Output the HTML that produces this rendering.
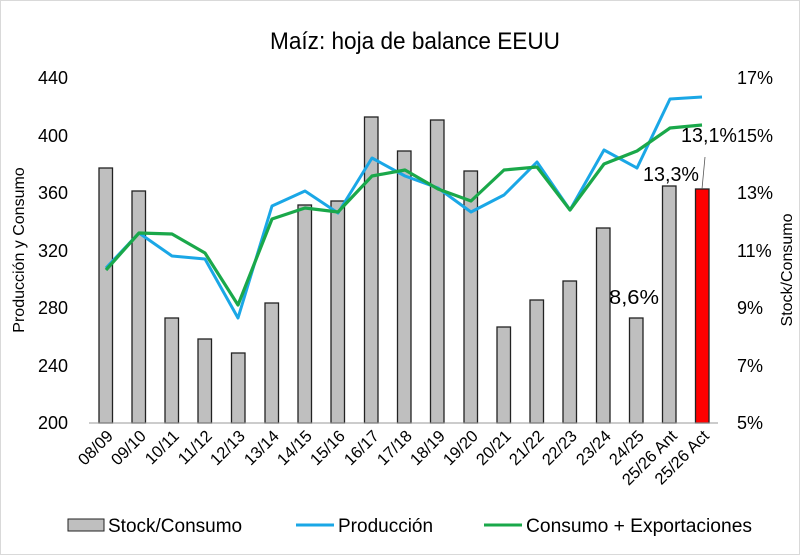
<!DOCTYPE html>
<html><head><meta charset="utf-8"><style>
html,body{margin:0;padding:0;background:#fff}
svg{display:block;font-family:"Liberation Sans",sans-serif}
</style></head><body>
<svg width="800" height="555" viewBox="0 0 800 555">
<rect x="0.5" y="0.5" width="799" height="554" fill="#fff" stroke="#d9d9d9"/>
<text x="415" y="49" font-size="24" text-anchor="middle" textLength="290" lengthAdjust="spacingAndGlyphs">Maíz: hoja de balance EEUU</text>
<g font-size="18" text-anchor="end" fill="#000">
<text x="68" y="84">440</text><text x="68" y="142">400</text><text x="68" y="199">360</text>
<text x="68" y="257">320</text><text x="68" y="314">280</text><text x="68" y="372">240</text><text x="68" y="429">200</text>
</g>
<g font-size="18" fill="#000">
<text x="737" y="84">17%</text><text x="737" y="142">15%</text><text x="737" y="199">13%</text>
<text x="737" y="257">11%</text><text x="737" y="314">9%</text><text x="737" y="372">7%</text><text x="737" y="429">5%</text>
</g>
<text transform="translate(24,250) rotate(-90)" font-size="16" text-anchor="middle">Producción y Consumo</text>
<text transform="translate(792,270) rotate(-90)" font-size="16" text-anchor="middle">Stock/Consumo</text>
<g fill="#bfbfbf" stroke="#222" stroke-width="1.3">
<rect x="99" y="168" width="13.5" height="255"/>
<rect x="132" y="191" width="13.5" height="232"/>
<rect x="165" y="318" width="13.5" height="105"/>
<rect x="198" y="339" width="13.5" height="84"/>
<rect x="231.5" y="353" width="13.5" height="70"/>
<rect x="265" y="303" width="13.5" height="120"/>
<rect x="298" y="205" width="13.5" height="218"/>
<rect x="331" y="201" width="13.5" height="222"/>
<rect x="364.5" y="117" width="13.5" height="306"/>
<rect x="397.5" y="151" width="13.5" height="272"/>
<rect x="430.5" y="120" width="13.5" height="303"/>
<rect x="464" y="171" width="13.5" height="252"/>
<rect x="497" y="327" width="13.5" height="96"/>
<rect x="530" y="300" width="13.5" height="123"/>
<rect x="563" y="281" width="13.5" height="142"/>
<rect x="596.5" y="228" width="13.5" height="195"/>
<rect x="629.5" y="318" width="13.5" height="105"/>
<rect x="662.5" y="186" width="13.5" height="237"/>
<rect x="695.5" y="189" width="13.5" height="234" fill="#ff0000"/>
</g>
<line x1="89" y1="423" x2="718" y2="423" stroke="#999" stroke-width="1"/>
<polyline fill="none" stroke="#1aa7e6" stroke-width="3" stroke-linejoin="round" points="106,268 139,233 172,256 205,259 238,318 272,206 305,191 338,213 372,158 405,176 438,188 471,212 504,195 537,162 570,210 604,150 637,168 670,99 702,97"/>
<polyline fill="none" stroke="#1aa84a" stroke-width="3.2" stroke-linejoin="round" points="106,270 139,233 172,234 205,253 238,305 272,219 305,208 338,212 372,176 405,170 438,189 471,201 504,170 537,167 570,210 604,164 637,151 670,128 702,125"/>
<line x1="702" y1="189" x2="705" y2="157" stroke="#555" stroke-width="0.8"/>
<g font-size="20">
<text x="609" y="304" textLength="50" lengthAdjust="spacingAndGlyphs">8,6%</text>
<text x="643" y="181" textLength="56" lengthAdjust="spacingAndGlyphs">13,3%</text>
<text x="681" y="142" textLength="56" lengthAdjust="spacingAndGlyphs">13,1%</text>
</g>
<g font-size="16.5" text-anchor="end">
<text transform="translate(114,437) rotate(-45)">08/09</text>
<text transform="translate(147,437) rotate(-45)">09/10</text>
<text transform="translate(180,437) rotate(-45)">10/11</text>
<text transform="translate(213,437) rotate(-45)">11/12</text>
<text transform="translate(246,437) rotate(-45)">12/13</text>
<text transform="translate(280,437) rotate(-45)">13/14</text>
<text transform="translate(313,437) rotate(-45)">14/15</text>
<text transform="translate(346,437) rotate(-45)">15/16</text>
<text transform="translate(380,437) rotate(-45)">16/17</text>
<text transform="translate(413,437) rotate(-45)">17/18</text>
<text transform="translate(446,437) rotate(-45)">18/19</text>
<text transform="translate(479,437) rotate(-45)">19/20</text>
<text transform="translate(512,437) rotate(-45)">20/21</text>
<text transform="translate(545,437) rotate(-45)">21/22</text>
<text transform="translate(578,437) rotate(-45)">22/23</text>
<text transform="translate(612,437) rotate(-45)">23/24</text>
<text transform="translate(645,437) rotate(-45)">24/25</text>
<text transform="translate(678,437) rotate(-45)">25/26 Ant</text>
<text transform="translate(710,437) rotate(-45)">25/26 Act</text>
</g>
<rect x="68" y="519" width="36" height="12" fill="#bfbfbf" stroke="#222" stroke-width="1"/>
<text x="108" y="532" font-size="19">Stock/Consumo</text>
<line x1="296" y1="525" x2="334" y2="525" stroke="#1aa7e6" stroke-width="3"/>
<text x="338" y="532" font-size="19">Producción</text>
<line x1="484" y1="525" x2="522" y2="525" stroke="#1aa84a" stroke-width="3"/>
<text x="526" y="532" font-size="19" textLength="226" lengthAdjust="spacingAndGlyphs">Consumo + Exportaciones</text>
</svg>
</body></html>
